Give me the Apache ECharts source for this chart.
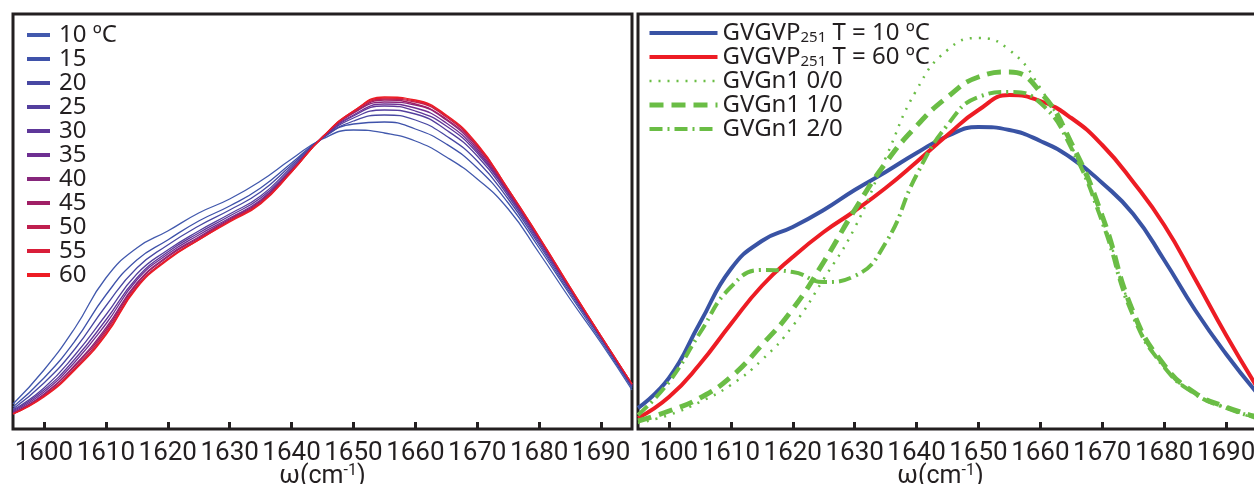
<!DOCTYPE html>
<html><head><meta charset="utf-8">
<script src="https://cdn.jsdelivr.net/npm/echarts@6/dist/echarts.min.js"></script>
<style>html,body{margin:0;padding:0;background:#fff}#c{width:1254px;height:484px}</style>
</head><body><div id="c"></div>
<script>
// wavenumber grid (cm-1)
const wavenumbers = [1595,1600,1605,1610,1615,1620,1625,1630,1635,1640,1645,1650,1655,1660,1665,1670,1675,1680,1685,1690,1695];

// Left panel: temperature series (arbitrary absorbance units)
const tempLabels = ['10 ºC','15','20','25','30','35','40','45','50','55','60'];
const t10 = [25,59,101,151,181,198,216,230,248,270,290,299,296,288,272,250,220,176,130,86,39];
const t15 = [22,51,88,134,169,189,208,223,241,266,291,305,307,300,285,261,226,181,134,88,41];
const t20 = [20,46,80,123,161,184,203,219,237,264,291,308,314,309,293,268,230,184,136,90,42];
const t25 = [19,41,74,114,155,179,198,215,233,262,291,311,319,315,299,273,233,186,138,91,43];
const t30 = [18,39,70,109,151,177,196,213,231,260,291,313,323,318,303,276,235,188,139,91,43];
const t35 = [17,37,67,105,149,175,194,211,229,259,292,314,325,321,306,278,236,189,140,92,44];
const t40 = [16,35,64,101,146,173,192,210,228,259,292,316,327,324,309,280,237,190,140,92,44];
const t45 = [16,34,63,99,145,172,191,209,227,258,292,316,329,325,310,282,238,191,141,92,45];
const t50 = [15,33,61,97,143,170,190,208,226,258,292,317,330,327,312,283,239,191,141,93,45];
const t55 = [15,33,60,95,142,170,189,208,226,257,292,318,331,328,313,284,240,192,142,93,45];
const t60 = [15,32,59,94,141,169,189,207,225,257,292,318,332,329,314,285,240,192,142,93,45];

// Right panel series
const rightNames = ['GVGVP251 T = 10 ºC','GVGVP251 T = 60 ºC','GVGn1 0/0','GVGn1 1/0','GVGn1 2/0'];
const gvgvp10 = [21,51,106,160,188,202,219,239,257,276,293,302,299,288,271,246,215,169,119,75,36];
const gvgvp60 = [11,32,65,105,143,172,197,218,241,267,294,319,334,328,311,284,247,204,150,94,42];
const gvgn00  = [6,14,27,44,69,103,150,201,271,339,379,391,379,341,283,211,115,63,35,21,10];
const gvgn10  = [8,18,31,52,84,120,167,219,266,303,332,352,357,337,286,213,117,64,36,22,12];
const gvgn20  = [14,47,96,142,159,157,147,153,186,254,304,332,337,326,281,207,113,62,35,21,11];

const leftSeriesData = [t10,t15,t20,t25,t30,t35,t40,t45,t50,t55,t60];
const leftColors = ['#4259ad','#3f52aa','#4848a3','#543f9e','#5e3799','#6e2f92','#86267b','#a01f66','#bf1f4f','#d91e39','#ed1c24'];
const rightData = [gvgvp10,gvgvp60,gvgn00,gvgn10,gvgn20];
const rightStyles = [
  {color:'#3953a4', width:4, type:'solid'},
  {color:'#ed1c24', width:4, type:'solid'},
  {color:'#6abd45', width:2.5, type:[2,7]},
  {color:'#6abd45', width:5, type:[14,8]},
  {color:'#6abd45', width:4, type:[13,5,2,5]}
];

const TXT = '#231f20';
const FONT = 'Noto Sans';
const AXFONT = 'Roboto';
const pair = arr => arr.map((v,i)=>[wavenumbers[i], v]);

function xAxisCfg(gi, namePad){
  return {
    type:'value', gridIndex:gi, min:1595, max:1695, splitNumber:10,
    axisLine:{show:false},
    axisTick:{show:true, inside:true, length:7, lineStyle:{color:TXT, width:3}},
    axisLabel:{show:true, interval:0, hideOverlap:false, showMinLabel:false, showMaxLabel:false, margin:11, fontSize:26, color:TXT, fontFamily:AXFONT,
      formatter:function(v){return String(v);}},
    splitLine:{show:false},
    name:'{a|ω(cm}{s|-1}{a|)}', nameLocation:'middle', nameGap:34, nameMoveOverlap:false,
    nameTextStyle:{padding:namePad, rich:{
      a:{fontSize:25, lineHeight:28, color:TXT, fontFamily:AXFONT},
      s:{fontSize:16, lineHeight:16, verticalAlign:'top', color:TXT, fontFamily:AXFONT}
    }}
  };
}
function yAxisCfg(gi){
  return {type:'value', gridIndex:gi, min:0, max:415, show:false};
}

const series = [];
leftSeriesData.forEach((d,i)=>{
  series.push({type:'line', name:tempLabels[i], xAxisIndex:0, yAxisIndex:0, data:pair(d),
    smooth:0.5, symbol:'none', lineStyle:{color:leftColors[i], width:1.3}, itemStyle:{color:leftColors[i]}, z:2+i});
});
rightData.forEach((d,i)=>{
  const st = rightStyles[i];
  series.push({type:'line', name:rightNames[i], xAxisIndex:1, yAxisIndex:1, data:pair(d),
    smooth:0.5, symbol:'none', lineStyle:{color:st.color, width:st.width, type:st.type}, itemStyle:{color:st.color}, z:i>=2?5:4});
});

const rightLegendData = rightNames.map((n,i)=>({name:n, lineStyle:{width:rightStyles[i].width, type:rightStyles[i].type, color:rightStyles[i].color}}));

const chart = echarts.init(document.getElementById('c'), null, {renderer:'canvas'});
chart.setOption({
  animation:false,
  backgroundColor:'#fff',
  grid:[
    {left:13, top:14, width:619, height:415, show:true, borderColor:TXT, borderWidth:3, backgroundColor:'transparent', containLabel:false, outerBoundsMode:'none'},
    {left:638, top:14, width:619, height:415, show:true, borderColor:TXT, borderWidth:3, backgroundColor:'transparent', containLabel:false, outerBoundsMode:'none'}
  ],
  xAxis:[xAxisCfg(0,[0,0,0,0]), xAxisCfg(1,[0,14,0,0])],
  yAxis:[yAxisCfg(0), yAxisCfg(1)],
  legend:[
    {data:tempLabels, orient:'vertical', left:27, top:23, padding:0, icon:'rect', itemWidth:23, itemHeight:4, itemGap:0,
     selectedMode:false,
     textStyle:{fontSize:24, lineHeight:24, color:TXT, fontFamily:FONT, padding:[0,0,0,4]}},
    {data:rightLegendData, orient:'vertical', left:647, top:21, padding:0, itemWidth:68, itemHeight:4, itemGap:0,
     selectedMode:false,
     itemStyle:{opacity:0},
     formatter:function(name){
       if (name.indexOf('GVGVP251')===0) return '{a|GVGVP}{s|251}{a|' + name.slice(8) + '}';
       return '{a|' + name + '}';
     },
     textStyle:{color:TXT, fontFamily:FONT, rich:{
       a:{fontSize:24, lineHeight:24, color:TXT, fontFamily:FONT},
       s:{fontSize:15, lineHeight:15, verticalAlign:'bottom', color:TXT, fontFamily:FONT}
     }}}
  ],
  series:series
});
</script>
</body></html>
